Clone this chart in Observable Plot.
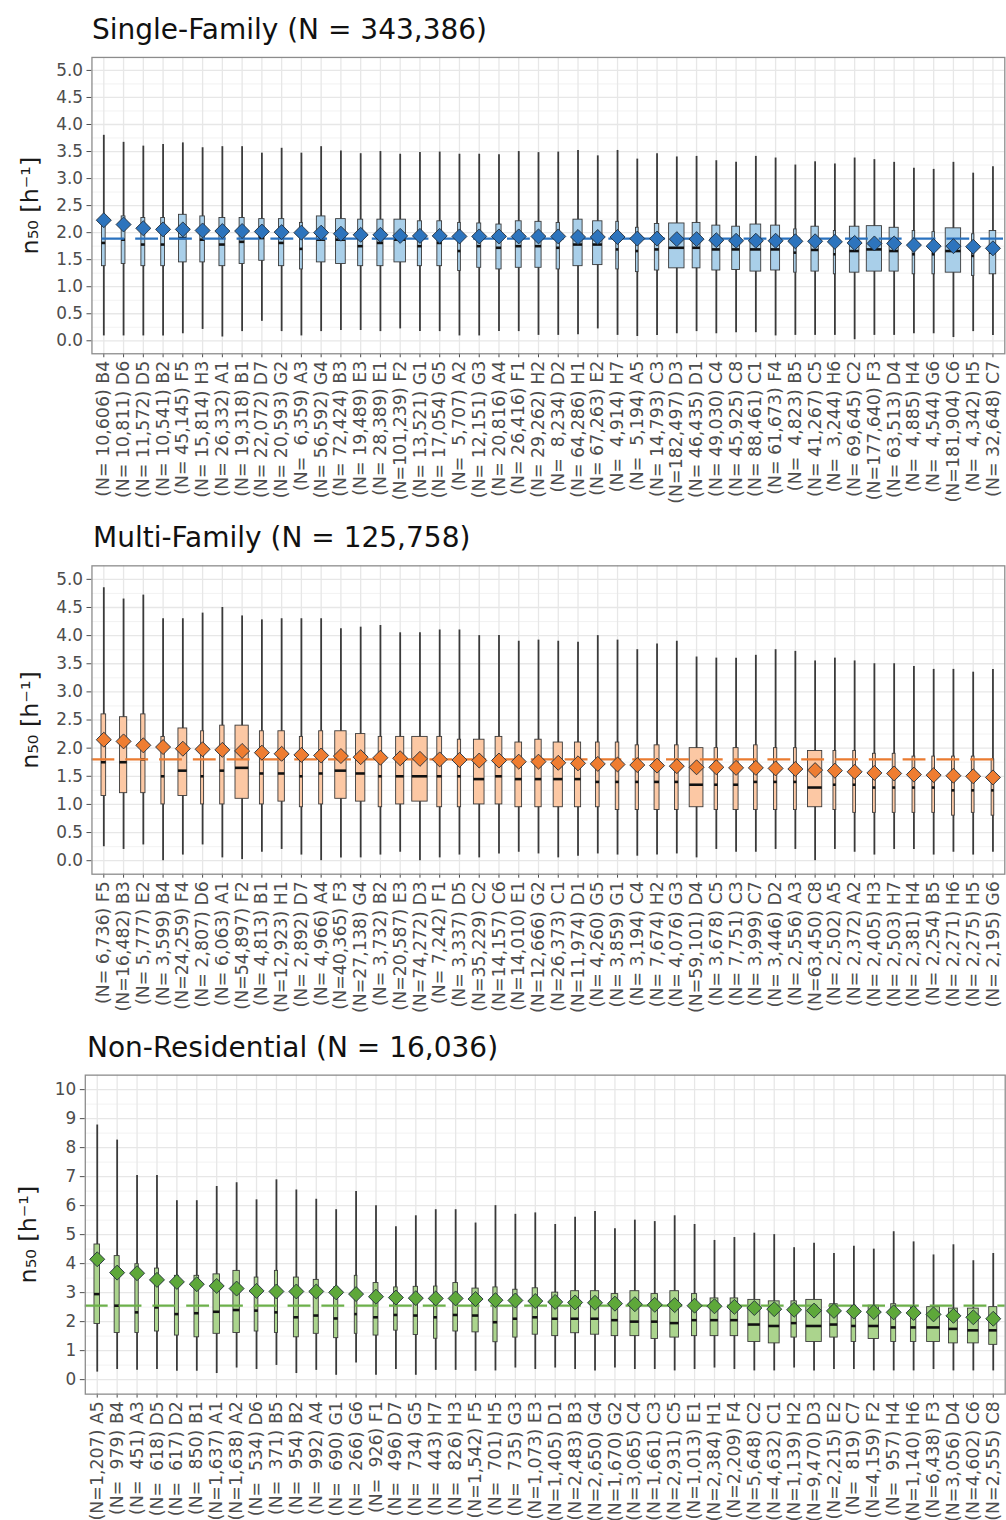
<!DOCTYPE html>
<html><head><meta charset="utf-8">
<script src="https://cdn.jsdelivr.net/npm/d3@7"></script>
<script src="https://cdn.jsdelivr.net/npm/@observablehq/plot@0.6"></script>
<style>
html,body{margin:0;padding:0;background:#fff;overflow:hidden;}
#wrap{position:relative;width:1006px;height:1520px;overflow:hidden;font-family:"DejaVu Sans",sans-serif;background:#fff;}
.title{position:absolute;font-size:28px;color:#111;white-space:nowrap;line-height:1;}
.panel{position:absolute;left:0;}
</style></head><body><div id="wrap"></div>
<script>
// ---------- Single-Family ----------
const zones1 = ["B4","D6","D5","B2","F5","H3","A1","B1","D7","G2","A3","G4","B3","E3","E1","F2","G1","G5","A2","G3","A4","F1","H2","D2","H1","E2","H7","A5","C3","D3","D1","C4","C8","C1","F4","B5","C5","H6","C2","F3","D4","H4","G6","C6","H5","C7"];
const n1 = [10606,10811,11572,10541,45145,15814,26332,19318,22072,20593,6359,56592,72424,19489,28389,101239,13521,17054,5707,12151,20816,26416,29262,8234,64286,67263,4914,5194,14793,182497,46435,49030,45925,88461,61673,4823,41267,3244,69645,177640,63513,4885,4544,181904,4342,32648];
const lo1 = [0.09,0.09,0.09,0.09,0.13,0.21,0.07,0.17,0.36,0.17,0.09,0.17,0.19,0.19,0.17,0.22,0.17,0.17,0.09,0.09,0.17,0.17,0.1,0.1,0.11,0.22,0.1,0.08,0.1,0.13,0.17,0.13,0.15,0.15,0.09,0.1,0.1,0.1,0.02,0.1,0.1,0.13,0.13,0.06,0.17,0.1];
const q1_1 = [1.38,1.42,1.38,1.38,1.45,1.45,1.38,1.42,1.48,1.38,1.32,1.45,1.42,1.38,1.38,1.45,1.38,1.38,1.29,1.35,1.32,1.35,1.35,1.32,1.38,1.4,1.32,1.27,1.3,1.34,1.34,1.3,1.31,1.28,1.3,1.26,1.28,1.23,1.26,1.28,1.28,1.23,1.23,1.26,1.2,1.23];
const med1 = [1.81,1.87,1.78,1.78,1.9,1.87,1.78,1.83,1.9,1.81,1.7,1.87,1.87,1.75,1.81,1.87,1.75,1.81,1.66,1.75,1.72,1.75,1.75,1.72,1.78,1.78,1.69,1.66,1.69,1.72,1.72,1.69,1.69,1.69,1.69,1.63,1.68,1.6,1.66,1.69,1.66,1.6,1.6,1.66,1.57,1.63];
const q3_1 = [2.27,2.3,2.27,2.27,2.33,2.3,2.27,2.27,2.25,2.25,2.18,2.3,2.25,2.24,2.24,2.24,2.21,2.21,2.18,2.17,2.15,2.21,2.2,2.18,2.24,2.21,2.2,2.09,2.16,2.17,2.18,2.13,2.11,2.15,2.13,2.06,2.11,2.03,2.11,2.12,2.09,2.03,2.01,2.08,1.97,2.03];
const hi1 = [3.8,3.67,3.6,3.63,3.66,3.57,3.59,3.59,3.47,3.56,3.47,3.59,3.51,3.46,3.5,3.45,3.48,3.49,3.45,3.45,3.44,3.5,3.48,3.49,3.52,3.42,3.52,3.36,3.46,3.4,3.41,3.33,3.3,3.41,3.38,3.25,3.31,3.27,3.38,3.35,3.3,3.19,3.17,3.3,3.1,3.22];
const mean1 = [2.23,2.15,2.08,2.06,2.06,2.04,2.03,2.03,2.02,2.01,2.0,2.0,1.98,1.96,1.96,1.94,1.94,1.94,1.93,1.93,1.93,1.93,1.93,1.93,1.92,1.92,1.92,1.89,1.89,1.88,1.88,1.86,1.85,1.85,1.85,1.84,1.84,1.83,1.81,1.8,1.8,1.77,1.75,1.75,1.74,1.71];
const overall1 = 1.89;

// ---------- Multi-Family ----------
const zones2 = ["F5","B3","E2","B4","F4","D6","A1","F2","B1","H1","D7","A4","F3","G4","B2","E3","D3","F1","D5","C2","C6","E1","G2","C1","D1","G5","G1","C4","H2","G3","D4","C5","C3","C7","D2","A3","C8","A5","A2","H3","H7","H4","B5","H6","H5","G6"];
const n2 = [6736,16482,5777,3599,24259,2807,6063,54897,4813,12923,2892,4966,40365,27138,3732,20587,74272,7242,3337,35229,14157,14010,12666,26373,11974,4260,3859,3194,7674,4076,59101,3678,7751,3999,3446,2556,63450,2502,2372,2405,2503,2381,2254,2271,2275,2195];
const lo2 = [0.25,0.2,0.28,0.0,0.1,0.28,0.05,0.02,0.15,0.2,0.1,0.0,0.05,0.05,0.1,0.15,0.0,0.05,0.1,0.05,0.12,0.15,0.12,0.05,0.08,0.12,0.1,0.08,0.1,0.12,0.05,0.2,0.15,0.15,0.2,0.2,0.0,0.2,0.15,0.1,0.2,0.2,0.1,0.15,0.1,0.15];
const q1_2 = [1.15,1.2,1.2,1.0,1.15,1.0,1.0,1.1,1.0,1.05,0.95,1.0,1.1,1.05,0.95,1.0,1.05,0.95,0.95,1.0,1.0,0.95,0.95,0.95,0.95,0.95,0.9,0.9,0.9,0.9,0.95,0.9,0.9,0.9,0.9,0.9,0.95,0.9,0.85,0.85,0.85,0.85,0.85,0.8,0.85,0.8];
const med2 = [1.75,1.75,1.8,1.5,1.6,1.5,1.6,1.65,1.55,1.55,1.5,1.55,1.6,1.55,1.5,1.5,1.5,1.5,1.5,1.45,1.5,1.45,1.45,1.45,1.45,1.4,1.4,1.4,1.4,1.4,1.35,1.35,1.35,1.4,1.4,1.4,1.3,1.35,1.35,1.3,1.3,1.3,1.3,1.25,1.25,1.25];
const q3_2 = [2.6,2.55,2.6,2.2,2.35,2.3,2.4,2.4,2.3,2.3,2.2,2.3,2.3,2.25,2.2,2.2,2.2,2.2,2.15,2.15,2.2,2.1,2.15,2.1,2.1,2.1,2.1,2.05,2.05,2.05,2.0,2.0,2.0,2.05,2.0,2.0,1.95,1.95,1.95,1.9,1.9,1.85,1.85,1.85,1.85,1.8];
const hi2 = [4.85,4.65,4.72,4.3,4.3,4.4,4.5,4.35,4.28,4.3,4.3,4.3,4.12,4.15,4.18,4.05,4.05,4.1,4.1,4.0,4.0,3.9,3.92,3.9,3.88,4.0,3.92,3.75,3.85,3.9,3.62,3.6,3.6,3.65,3.75,3.72,3.55,3.6,3.55,3.5,3.5,3.45,3.4,3.4,3.35,3.4];
const mean2 = [2.15,2.12,2.05,2.02,1.99,1.98,1.97,1.95,1.92,1.9,1.88,1.87,1.86,1.84,1.83,1.82,1.81,1.8,1.79,1.78,1.78,1.76,1.76,1.74,1.73,1.72,1.71,1.7,1.69,1.68,1.66,1.66,1.65,1.65,1.64,1.63,1.61,1.6,1.58,1.56,1.55,1.53,1.52,1.51,1.5,1.48];
const overall2 = 1.8;

// ---------- Non-Residential ----------
const zones3 = ["A5","B4","A3","D5","D2","B1","A1","A2","D6","B5","B2","A4","G1","G6","F1","D7","G5","H7","H3","F5","H5","G3","E3","D1","B3","G4","G2","C4","C3","C5","E1","H1","F4","C2","C1","H2","D3","E2","C7","F2","H4","H6","F3","D4","C6","C8"];
const n3 = [1207,979,451,618,617,850,1637,1638,534,371,954,992,690,266,926,496,734,443,826,1542,701,735,1073,1405,2483,2650,1670,3065,1661,2931,1013,2384,2209,5648,4632,1139,9470,2215,819,4159,957,1140,6438,3056,4602,2555];
const lo3 = [0.26,0.35,0.32,0.35,0.29,0.29,0.21,0.4,0.35,0.49,0.21,0.32,0.15,0.57,0.15,0.35,0.15,0.32,0.32,0.29,0.3,0.4,0.35,0.4,0.35,0.3,0.4,0.35,0.35,0.3,0.35,0.4,0.35,0.3,0.3,0.4,0.3,0.35,0.35,0.3,0.3,0.3,0.35,0.3,0.3,0.3];
const q1_3 = [1.92,1.61,1.61,1.66,1.52,1.46,1.58,1.61,1.66,1.61,1.46,1.58,1.43,1.58,1.52,1.69,1.54,1.41,1.66,1.63,1.29,1.45,1.55,1.5,1.6,1.55,1.5,1.5,1.4,1.45,1.5,1.5,1.5,1.3,1.25,1.45,1.3,1.45,1.3,1.4,1.3,1.3,1.3,1.25,1.25,1.2];
const med3 = [2.95,2.55,2.32,2.49,2.26,2.29,2.34,2.4,2.38,2.32,2.15,2.21,2.11,2.26,2.15,2.23,2.21,2.15,2.23,2.21,1.98,2.1,2.15,2.1,2.1,2.1,2.05,2.0,2.0,1.95,2.05,2.05,2.05,1.9,1.85,1.95,1.85,1.9,1.85,1.85,1.8,1.8,1.8,1.75,1.7,1.7];
const q3_3 = [4.66,4.26,3.98,3.83,3.58,3.58,3.63,3.75,3.52,3.75,3.52,3.44,3.18,3.58,3.33,3.18,3.2,3.21,3.33,3.14,3.18,3.1,3.15,3.0,3.05,3.05,2.95,3.05,2.95,3.05,2.95,2.8,2.8,2.75,2.7,2.7,2.75,2.6,2.55,2.55,2.6,2.5,2.5,2.45,2.45,2.5];
const hi3 = [8.78,8.26,7.04,7.04,6.17,6.17,6.66,6.79,6.2,6.89,6.54,6.22,5.86,6.49,6.0,5.27,5.65,5.86,5.86,5.4,6.0,5.7,5.75,5.35,5.6,5.8,5.2,5.5,5.45,5.65,5.35,4.8,4.9,5.05,5.0,4.55,4.7,4.35,4.6,4.5,5.1,4.75,4.3,4.65,4.1,4.35];
const mean3 = [4.15,3.69,3.67,3.44,3.37,3.29,3.23,3.14,3.06,3.04,3.04,3.04,3.01,2.95,2.86,2.83,2.81,2.8,2.8,2.78,2.74,2.73,2.71,2.68,2.66,2.65,2.62,2.6,2.58,2.57,2.55,2.53,2.51,2.47,2.43,2.41,2.38,2.37,2.35,2.33,2.32,2.3,2.25,2.2,2.15,2.1];
const overall3 = 2.55;

const yLabel = "n\u2085\u2080 [h\u207B\u00B9]";

const panels = [
  {title: "Single-Family (N = 343,386)", titleTop: 15.5, titleLeft: 92, svgTop: 48, mTop: 9, frameH: 298.1, mLeft: 92, right: 1010.3,
   zones: zones1, ns: n1, lo: lo1, q1: q1_1, med: med1, q3: q3_1, hi: hi1, mean: mean1, overall: overall1, pad: 7,
   yDomain: [-0.24, 5.24], yTicks: d3.range(0, 5.001, 0.5), yMinor: d3.range(0.25, 5.3, 0.5), fmt: d3.format(".1f"),
   fill: "#a9cfe9", dot: "#2d74bd", line: "#2a72bf", labDx: -62, dashOff: 24},
  {title: "Multi-Family (N = 125,758)", titleTop: 524, titleLeft: 93, svgTop: 556, mTop: 9.4, frameH: 310.2, mLeft: 92, right: 1010.3,
   zones: zones2, ns: n2, lo: lo2, q1: q1_2, med: med2, q3: q3_2, hi: hi2, mean: mean2, overall: overall2, pad: 6,
   yDomain: [-0.24, 5.24], yTicks: d3.range(0, 5.001, 0.5), yMinor: d3.range(0.25, 5.3, 0.5), fmt: d3.format(".1f"),
   fill: "#fcc8a4", dot: "#ef7d31", line: "#ea7b30", labDx: -62, dashOff: 0},
  {title: "Non-Residential (N = 16,036)", titleTop: 1033.5, titleLeft: 87, svgTop: 1065, mTop: 9.7, frameH: 320.9, mLeft: 85.3, right: 1010.7,
   zones: zones3, ns: n3, lo: lo3, q1: q1_3, med: med3, q3: q3_3, hi: hi3, mean: mean3, overall: overall3, pad: 5,
   yDomain: [-0.5, 10.5], yTicks: d3.range(0, 10.001, 1), yMinor: d3.range(0.5, 10.6, 1), fmt: d3.format("d"),
   fill: "#abd48d", dot: "#5ea83a", line: "#6cb04a", labDx: -57, dashOff: 0}
];

const wrap = document.getElementById("wrap");
const W = 1012;

for (const p of panels) {
  const N = p.zones.length;
  const maxN = d3.max(p.ns);
  const data = p.zones.map((z, i) => ({
    i, z, n: p.ns[i], lo: p.lo[i], q1: p.q1[i], med: p.med[i], q3: p.q3[i], hi: p.hi[i], mean: p.mean[i],
    w: 0.39 * Math.sqrt(p.ns[i] / maxN)
  }));
  const labels = p.zones.map((z, i) => `(N=${d3.format(",")(p.ns[i]).padStart(p.pad)}) ${z}`);
  const mBottom = 160;
  const chart = Plot.plot({
    width: W,
    height: p.mTop + p.frameH + mBottom,
    marginLeft: p.mLeft,
    marginRight: W - p.right,
    marginTop: p.mTop,
    marginBottom: mBottom,
    style: {fontFamily: "DejaVu Sans, sans-serif", fontSize: "17px", color: "#4d4d4d", background: "transparent", overflow: "visible"},
    x: {domain: [-0.6, N - 0.4], axis: null},
    y: {domain: p.yDomain, axis: null},
    marks: [
      Plot.ruleY(p.yMinor.filter(v => v < p.yDomain[1]), {stroke: "#f1f1f1", strokeWidth: 0.9}),
      Plot.ruleY(p.yTicks, {stroke: "#e7e7e7", strokeWidth: 1.3}),
      Plot.ruleX(d3.range(N), {stroke: "#e7e7e7", strokeWidth: 1.3}),
      Plot.ruleX(data, {x: "i", y1: "lo", y2: "hi", stroke: "#3a3a3a", strokeWidth: 1.8}),
      Plot.rect(data, {x1: d => d.i - d.w, x2: d => d.i + d.w, y1: "q1", y2: "q3", fill: p.fill, stroke: "#3a3a3a", strokeWidth: 0.9}),
      Plot.ruleY(data, {y: "med", x1: d => d.i - d.w, x2: d => d.i + d.w, stroke: "#111", strokeWidth: 2.6}),
      Plot.ruleY([p.overall], {stroke: p.line, strokeWidth: 2.2, strokeDasharray: "23 11", strokeDashoffset: p.dashOff}),
      Plot.dot(data, {x: "i", y: "mean", symbol: "diamond2", r: 6.8, fill: p.dot, stroke: "#1f2d3a", strokeWidth: 0.9}),
      Plot.axisY({ticks: p.yTicks, tickFormat: p.fmt, tickSize: 5, tickPadding: 4, label: null, fontSize: 17, color: "#4d4d4d"}),
      Plot.axisX({ticks: d3.range(N), tickFormat: i => labels[i], tickRotate: -90, tickSize: 4, tickPadding: 3, label: null, fontSize: 17.5, color: "#4d4d4d"}),
      Plot.frame({stroke: "#8c8c8c", strokeWidth: 1.3}),
      Plot.text([yLabel], {text: d => d, frameAnchor: "left", textAnchor: "middle", lineAnchor: "middle", dx: p.labDx, rotate: -90, fontSize: 24, fill: "#1a1a1a"})
    ]
  });
  const t = document.createElement("div");
  t.className = "title";
  t.textContent = p.title;
  t.style.top = p.titleTop + "px";
  t.style.left = p.titleLeft + "px";
  wrap.appendChild(t);
  const holder = document.createElement("div");
  holder.className = "panel";
  holder.style.top = p.svgTop + "px";
  holder.appendChild(chart);
  wrap.appendChild(holder);
}
</script></body></html>
